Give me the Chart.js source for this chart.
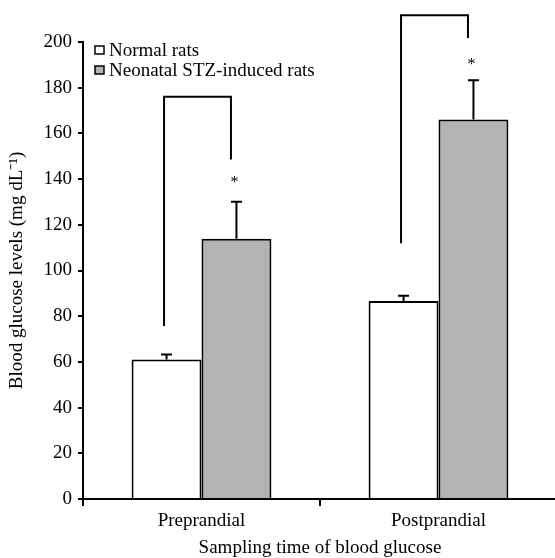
<!DOCTYPE html>
<html>
<head>
<meta charset="utf-8">
<script src="https://cdn.jsdelivr.net/npm/chart.js@4"></script>
<style>
    body { margin: 0; overflow: hidden; background: #fff; }
</style>
</head>
<body>
<canvas id="myChart1" width="558" height="558"></canvas>
<script>
const categorias = ['Preprandial', 'Postprandial'];
const normalMedia = [61, 86.7];
const normalError = [2.2, 2.3];
const stzMedia = [113.9, 166.1];
const stzError = [16.2, 17.2];
// brackets: bottom of left leg, top bar, bottom of right leg (mg/dL)
const corcheteIzq = [75.7, 111.9];
const corcheteTop = [176, 211.7];
const corcheteDer = [148.6, 201.7];
const asteriscoY = [139.9, 191.7];
const yTicks = [0, 20, 40, 60, 80, 100, 120, 140, 160, 180, 200];

const fuente = 'Liberation Serif, Times New Roman, serif';

const extras = {
    id: 'extras',
    afterDatasetsDraw(chart) {
        const ctx = chart.ctx;
        const y = chart.scales.y;
        const errores = [normalError, stzError];
        const medias = [normalMedia, stzMedia];
        ctx.save();
        ctx.strokeStyle = '#000';
        ctx.fillStyle = '#000';
        ctx.lineWidth = 2;

        // error bars
        [0, 1].forEach(d => {
            const meta = chart.getDatasetMeta(d);
            meta.data.forEach((bar, i) => {
                const top = y.getPixelForValue(medias[d][i] + errores[d][i]);
                ctx.beginPath();
                ctx.moveTo(bar.x, bar.y);
                ctx.lineTo(bar.x, top);
                ctx.moveTo(bar.x - 5.5, top);
                ctx.lineTo(bar.x + 5.5, top);
                ctx.stroke();
            });
        });

        // brackets and asterisks
        const m0 = chart.getDatasetMeta(0);
        const m1 = chart.getDatasetMeta(1);
        categorias.forEach((c, i) => {
            const xl = m0.data[i].x - 2.5;
            const xr = m1.data[i].x - 5.5;
            ctx.beginPath();
            ctx.moveTo(xl, y.getPixelForValue(corcheteIzq[i]));
            ctx.lineTo(xl, y.getPixelForValue(corcheteTop[i]));
            ctx.lineTo(xr, y.getPixelForValue(corcheteTop[i]));
            ctx.lineTo(xr, y.getPixelForValue(corcheteDer[i]));
            ctx.stroke();

            ctx.font = '16px ' + fuente;
            ctx.textAlign = 'center';
            ctx.textBaseline = 'alphabetic';
            ctx.fillText('*', m1.data[i].x - 2, y.getPixelForValue(asteriscoY[i]) + 8);
        });

        // legend
        const colores = ['#ffffff', '#b3b3b3'];
        ctx.font = '19px ' + fuente;
        ctx.textAlign = 'left';
        chart.data.datasets.forEach((ds, i) => {
            const cy = 50 + i * 20;
            ctx.fillStyle = colores[i];
            ctx.fillRect(95, cy - 4, 9, 8);
            ctx.lineWidth = 1.5;
            ctx.strokeRect(95, cy - 4, 9, 8);
            ctx.fillStyle = '#000';
            ctx.fillText(ds.label, 109, cy + 5.5);
        });
        ctx.restore();
    }
};

var ctx1 = document.getElementById('myChart1').getContext('2d');
var myChart1 = new Chart(ctx1, {
    type: 'bar',
    data: {
        labels: categorias,
        datasets: [{
            label: 'Normal rats',
            data: normalMedia,
            backgroundColor: '#ffffff',
            borderColor: '#000',
            borderWidth: 2
        }, {
            label: 'Neonatal STZ-induced rats',
            data: stzMedia,
            backgroundColor: '#b3b3b3',
            borderColor: '#000',
            borderWidth: 2
        }]
    },
    options: {
        responsive: false,
        animation: false,
        categoryPercentage: 0.59,
        barPercentage: 1,
        layout: {
            padding: { top: 42, right: 1, left: 0, bottom: 0 }
        },
        plugins: {
            legend: { display: false },
            tooltip: { enabled: false }
        },
        scales: {
            x: {
                afterFit: (s) => { s.height = 59; },
                grid: {
                    drawOnChartArea: false,
                    offset: true,
                    tickLength: 7,
                    color: '#000',
                    lineWidth: 2
                },
                border: { color: '#000', width: 2 },
                ticks: {
                    color: '#000',
                    padding: 4,
                    font: { family: fuente, size: 19 }
                },
                title: {
                    display: true,
                    text: 'Sampling time of blood glucose',
                    color: '#000',
                    padding: 0,
                    font: { family: fuente, size: 19, lineHeight: 1 }
                }
            },
            y: {
                min: 0,
                max: 200,
                afterFit: (s) => { s.width = 83; },
                afterBuildTicks: (s) => { s.ticks = yTicks.map(v => ({ value: v })); },
                grid: {
                    drawOnChartArea: false,
                    tickLength: 5,
                    color: '#000',
                    lineWidth: 2
                },
                border: { color: '#000', width: 2 },
                ticks: {
                    color: '#000',
                    padding: 6,
                    font: { family: fuente, size: 19 }
                },
                title: {
                    display: true,
                    text: 'Blood glucose levels (mg dL⁻¹)',
                    color: '#000',
                    padding: { top: 6, bottom: 0 },
                    font: { family: fuente, size: 19 }
                }
            }
        }
    },
    plugins: [extras]
});
</script>
</body>
</html>
